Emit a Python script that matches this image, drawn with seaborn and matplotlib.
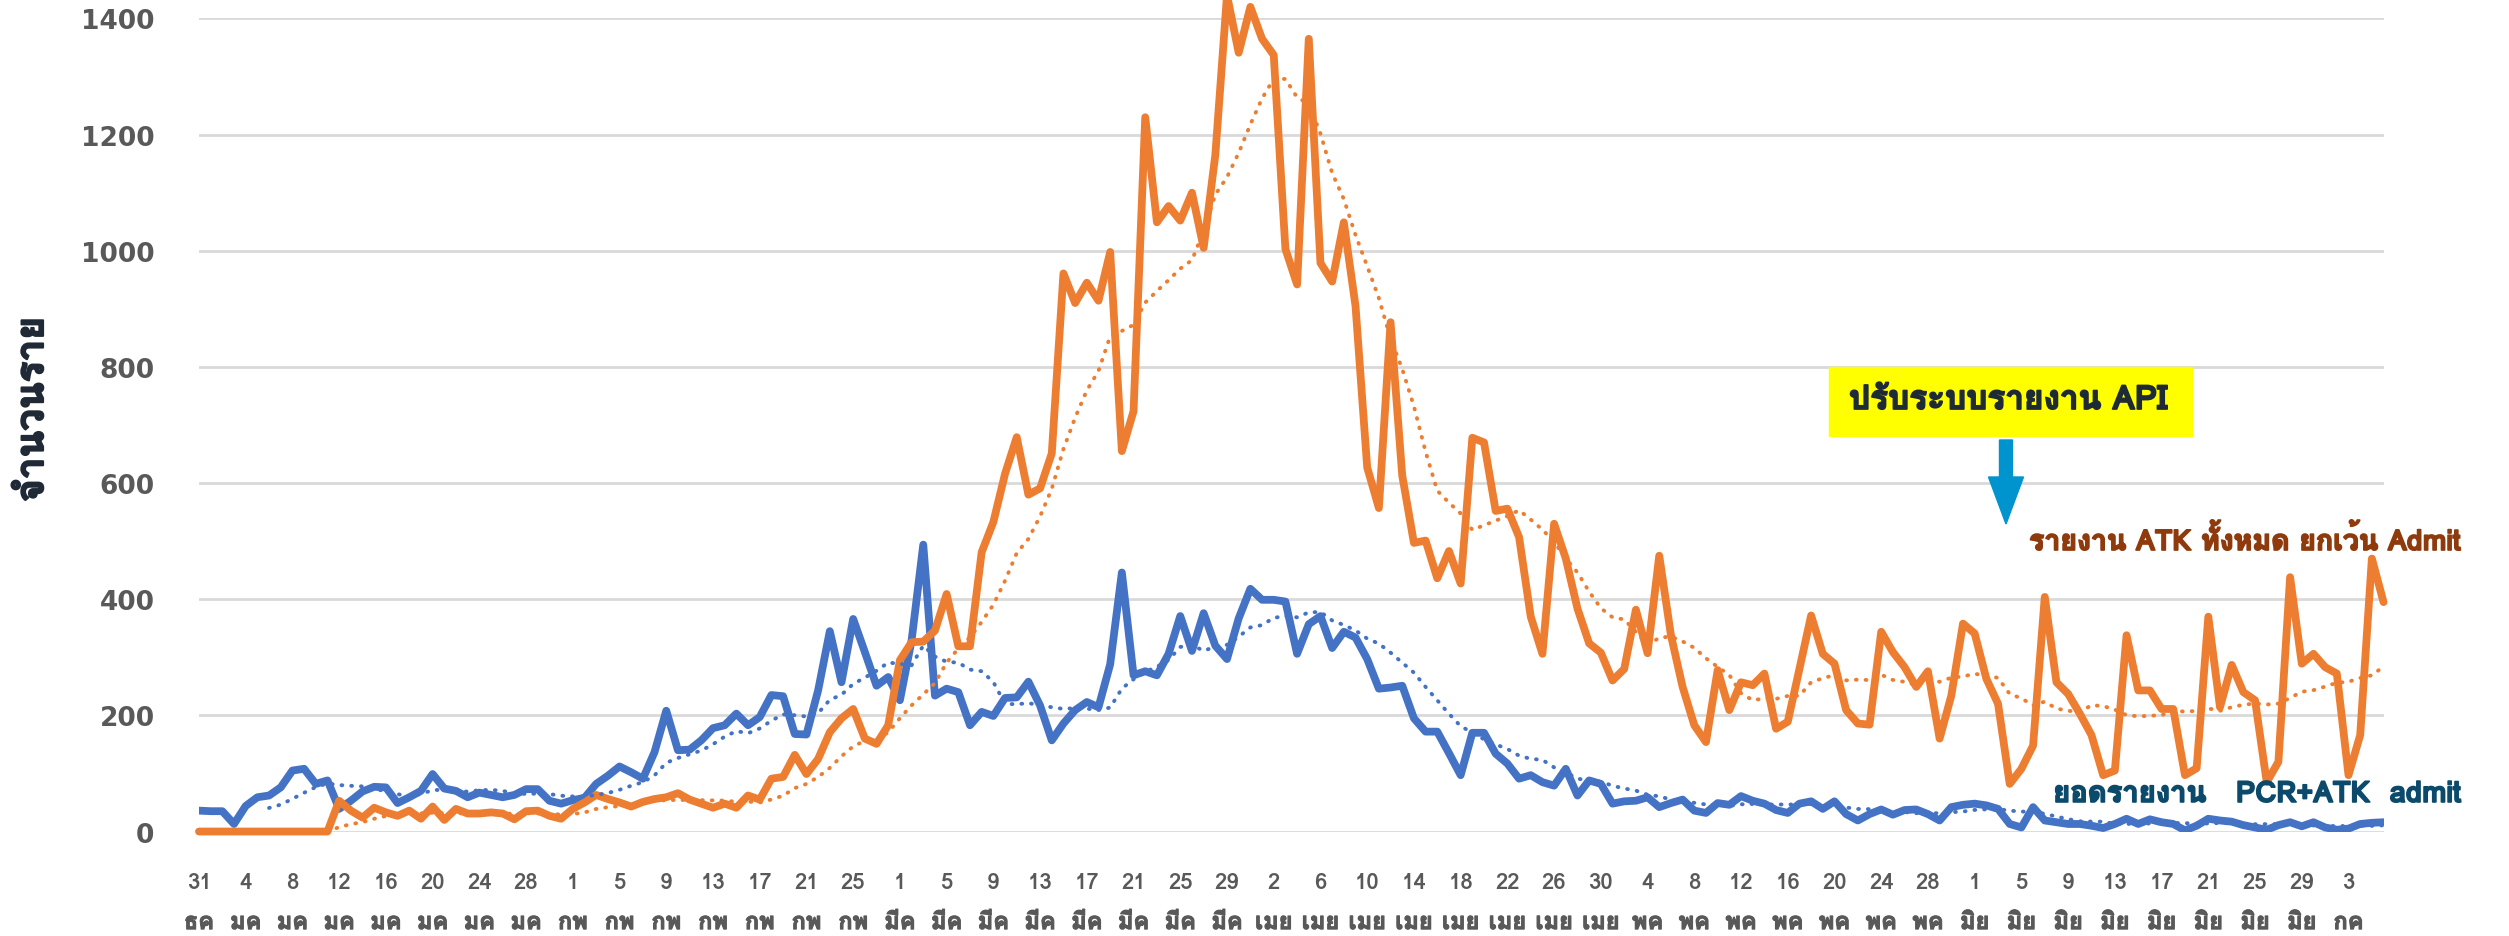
import numpy as np
import pandas as pd
import matplotlib
matplotlib.use("Agg")
import matplotlib.pyplot as plt
from matplotlib import font_manager, ft2font
from matplotlib import patheffects as pe
from matplotlib.patches import Rectangle, Polygon
import seaborn as sns

# ---- data: one value per day, 31 Dec -> 6 Jul ----
atk_except_admit = [
    0, 0, 0, 0, 0, 0, 0, 0, 0, 0,
    0, 0, 53, 36, 24, 41, 33, 27, 36, 22,
    43, 20, 39, 31, 31, 33, 31, 21, 35, 36,
    27, 22, 39, 50, 63, 56, 50, 43, 51, 56,
    59, 66, 55, 48, 41, 48, 41, 62, 55, 91,
    94, 132, 99, 125, 171, 195, 211, 160, 151, 183,
    295, 326, 327, 346, 409, 319, 319, 481, 533, 616,
    679, 580, 591, 651, 961, 910, 945, 914, 998, 655,
    724, 1230, 1049, 1077, 1052, 1100, 1005, 1165, 1440, 1341,
    1420, 1365, 1337, 1003, 942, 1365, 979, 947, 1049, 905,
    627, 557, 877, 613, 497, 501, 436, 483, 427, 678,
    670, 552, 556, 507, 370, 306, 530, 470, 384, 324,
    308, 260, 280, 382, 307, 475, 338, 249, 183, 154,
    278, 209, 257, 252, 272, 177, 189, 280, 372, 306,
    289, 209, 186, 184, 344, 309, 283, 249, 276, 160,
    234, 358, 341, 263, 220, 82, 108, 148, 404, 257,
    237, 203, 166, 97, 105, 338, 243, 243, 211, 211,
    97, 109, 370, 214, 287, 240, 226, 85, 120, 438,
    289, 306, 283, 272, 97, 166, 470, 395,
]
pcr_atk_admit = [
    36, 35, 35, 13, 44, 59, 62, 76, 105, 108,
    82, 88, 39, 53, 69, 77, 76, 49, 59, 70,
    99, 74, 70, 59, 67, 63, 59, 63, 73, 73,
    53, 48, 54, 58, 82, 96, 112, 102, 91, 137,
    208, 140, 141, 157, 178, 183, 203, 183, 197, 235,
    233, 168, 167, 243, 345, 257, 366, 309, 251, 266,
    226, 329, 494, 234, 246, 240, 183, 206, 199, 230,
    231, 258, 217, 157, 186, 209, 223, 214, 288, 446,
    269, 276, 269, 306, 371, 311, 376, 320, 297, 367,
    418, 399, 399, 396, 306, 357, 371, 316, 344, 334,
    297, 246, 248, 251, 195, 172, 172, 135, 97, 170,
    170, 134, 117, 91, 97, 85, 79, 108, 62, 88,
    82, 48, 52, 53, 59, 42, 49, 55, 36, 32,
    49, 46, 61, 53, 48, 37, 32, 48, 52, 39,
    52, 30, 19, 30, 38, 29, 37, 38, 30, 19,
    42, 46, 48, 45, 39, 13, 7, 42, 19, 16,
    13, 13, 10, 6, 13, 22, 13, 21, 16, 13,
    2, 10, 22, 19, 17, 11, 7, 3, 11, 16,
    9, 16, 7, 3, 5, 13, 15, 16,
]
tick_days = [31, 4, 8, 12, 16, 20, 24, 28, 1, 5, 9, 13, 17, 21, 25,
             1, 5, 9, 13, 17, 21, 25, 29, 2, 6, 10, 14, 18, 22, 26, 30,
             4, 8, 12, 16, 20, 24, 28, 1, 5, 9, 13, 17, 21, 25, 29, 3]
tick_months = (["ธค"] + ["มค"] * 7 + ["กพ"] * 7 + ["มีค"] * 8 + ["เมย"] * 8
               + ["พค"] * 7 + ["มิย"] * 8 + ["กค"])

df = pd.DataFrame({"day": np.arange(len(pcr_atk_admit)),
                   "atk": atk_except_admit, "admit": pcr_atk_admit})
# Excel-style 7 day moving-average trendlines
df["atk_ma"] = df["atk"].rolling(7).mean()
df["admit_ma"] = df["admit"].rolling(7).mean()


def thai_font():
    # first installed family that actually has Thai glyphs
    for f in font_manager.fontManager.ttflist:
        try:
            if 0x0E08 in ft2font.FT2Font(f.fname).get_charmap():
                return f.name
        except Exception:
            pass
    return "DejaVu Sans"


sns.set_theme(style="white")
TH = thai_font()
FAM = [TH, "DejaVu Sans"]
plt.rcParams["font.family"] = ["DejaVu Sans", TH]


def heavy(color, w=1.0):
    # fake a heavier weight for the Thai face
    return [pe.withStroke(linewidth=w, foreground=color)]


BLUE, ORANGE = "#4472C4", "#ED7D31"
GREY = "#595959"

fig = plt.figure(figsize=(25.09, 9.37), dpi=100)
ax = fig.add_axes([0.0793, 0.1115, 0.8707, 0.8677])

sns.lineplot(ax=ax, data=df, x="day", y="admit", color=BLUE, linewidth=5.6,
             solid_joinstyle="round", solid_capstyle="round")
sns.lineplot(ax=ax, data=df, x="day", y="atk", color=ORANGE, linewidth=5.6,
             solid_joinstyle="round", solid_capstyle="round", clip_on=False)
sns.lineplot(ax=ax, data=df, x="day", y="admit_ma", color=BLUE, linewidth=2.8,
             linestyle=(0, (0.2, 2.3)), dash_capstyle="round")
sns.lineplot(ax=ax, data=df, x="day", y="atk_ma", color=ORANGE, linewidth=2.8,
             linestyle=(0, (0.2, 2.3)), dash_capstyle="round")

ax.set_xlim(0, len(df) - 1)
ax.set_ylim(0, 1400)
ax.set_yticks(range(0, 1401, 200))
ax.tick_params(axis="y", length=0, pad=32, labelsize=19, labelcolor=GREY)
for t in ax.get_yticklabels():
    t.set_fontweight("bold")
ax.yaxis.grid(True, color="#D9D9D9", linewidth=2)
ax.xaxis.grid(False)
ax.set_xticks(range(0, len(df), 4))
ax.set_xticklabels([])
ax.tick_params(axis="x", length=0)
for s in ax.spines.values():
    s.set_visible(False)
ax.set_xlabel("")
ax.set_ylabel("")

xt = ax.get_xaxis_transform()
for pos, d, m in zip(range(0, len(df), 4), tick_days, tick_months):
    ax.text(pos, -0.0615, str(d), transform=xt, ha="center", va="center",
            fontsize=16, fontweight="bold", color=GREY, family=FAM)
    ax.text(pos, -0.112, m, transform=xt, ha="center", va="center",
            fontsize=17, fontweight="bold", color=GREY, family=FAM,
            path_effects=heavy(GREY, 0.8))

fig.text(0.0132, 0.562, "จำนวนราย", rotation=90, ha="center", va="center",
         fontsize=28, fontweight="bold", color="#1F2A36", family=FAM,
         path_effects=heavy("#1F2A36", 1.4))

# yellow call-out box and blue arrow
fig.add_artist(Rectangle((0.729, 0.5336), 0.1447, 0.0736,
                         transform=fig.transFigure, color="#FFFF00", zorder=5))
fig.text(0.8005, 0.572, "ปรับระบบรายงาน API", ha="center", va="center",
         fontsize=24, fontweight="bold", color="#1E2B37", family=FAM, zorder=6,
         path_effects=heavy("#1E2B37", 1.2))
cx = 20.06
fig.add_artist(Polygon([(cx - 0.065, 4.96), (cx + 0.065, 4.96), (cx + 0.065, 4.59),
                        (cx + 0.175, 4.59), (cx, 4.12), (cx - 0.175, 4.59),
                        (cx - 0.065, 4.59)], closed=True,
                       transform=fig.dpi_scale_trans, color="#0094CE", zorder=5))

fig.text(0.8087, 0.4226, "รายงาน ATK ทั้งหมด ยกเว้น Admit", ha="left", va="center",
         fontsize=20.5, fontweight="bold", color="#8E3A0C", family=FAM,
         path_effects=heavy("#8E3A0C", 1.2))
fig.text(0.8183, 0.1516, "ยอดรายงาน   PCR+ATK  admit", ha="left", va="center",
         fontsize=21, fontweight="bold", color="#0B4A6B", family=FAM,
         path_effects=heavy("#0B4A6B", 1.2))

fig.savefig("out.png", dpi=100)
